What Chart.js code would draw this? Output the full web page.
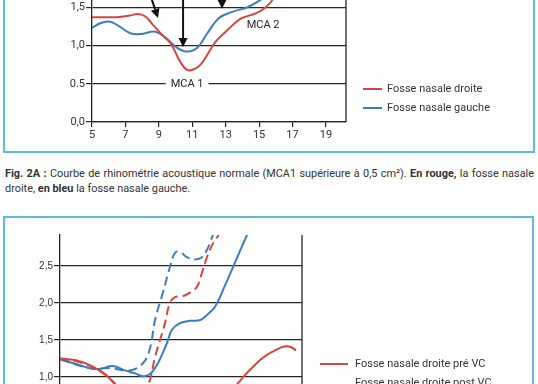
<!DOCTYPE html>
<html>
<head>
<meta charset="utf-8">
<script src="https://cdn.jsdelivr.net/npm/chart.js@4.4.0/dist/chart.umd.min.js"></script>
<style>
  body { margin: 0; width: 538px; height: 384px; overflow: hidden; position: relative; background: #fff; font-family: Roboto, sans-serif; color: #333; }
  .box { position: absolute; box-sizing: border-box; border: 2px solid #5cbcdb; }
  #box1 { left: 3px; top: -60px; width: 532px; height: 213px; }
  #box2 { left: 3px; top: 216px; width: 531px; height: 300px; }
  canvas { position: absolute; left: 0; }
  #chart1 { top: -40px; }
  #chart2 { top: 225px; }
  .leg { position: absolute; font-size: 11px; line-height: 14px; white-space: nowrap; }
  .leg i { position: absolute; top: 6px; height: 0; border-top: 2px solid; }
  .caption { position: absolute; left: 5px; top: 166px; width: 529px; font-size: 10.9px; line-height: 15px; color: #333; }
  .caption .l1 { text-align: justify; text-align-last: justify; white-space: nowrap; }
</style>
</head>
<body>
<div class="box" id="box1"></div>
<div class="box" id="box2"></div>
<canvas id="chart1" width="538" height="200"></canvas>
<canvas id="chart2" width="538" height="260"></canvas>

<div class="leg" style="left:363px;top:82px;"><i style="left:0;width:19px;border-color:#d8453e"></i><span style="margin-left:24px">Fosse nasale droite</span></div>
<div class="leg" style="left:363px;top:101px;"><i style="left:0;width:19px;border-color:#3b7dbf"></i><span style="margin-left:24px">Fosse nasale gauche</span></div>

<div class="caption">
  <div class="l1"><b>Fig. 2A :</b> Courbe de rhinométrie acoustique normale (MCA1 supérieure à 0,5 cm²). <b>En rouge,</b> la fosse nasale</div>
  <div>droite, <b>en bleu</b> la fosse nasale gauche.</div>
</div>

<div class="leg" style="left:320px;top:357px;"><i style="left:0;width:28px;border-color:#d8453e"></i><span style="margin-left:35px">Fosse nasale droite pré VC</span></div>
<div class="leg" style="left:320px;top:376px;"><i style="left:0;top:10px;width:28px;border-color:#d8453e;border-top-style:dashed"></i><span style="margin-left:35px">Fosse nasale droite post VC</span></div>
<div class="leg" style="left:320px;top:396px;"><i style="left:0;width:28px;border-color:#3b7dbf"></i><span style="margin-left:35px">Fosse nasale gauche pré VC</span></div>
<div class="leg" style="left:320px;top:416px;"><i style="left:0;width:28px;border-color:#3b7dbf;border-top-style:dashed"></i><span style="margin-left:35px">Fosse nasale gauche post VC</span></div>

<script>
const RED = '#d8453e';
const BLUE = '#3b7dbf';
const INK = '#262626';

// Fig. 2A : courbe normale
const droiteX = [5.0, 6.4, 7.2, 7.8, 8.2, 8.65, 9.1, 9.7, 10.3, 10.7, 11.1, 11.5, 11.9, 12.4, 13.0, 13.9, 14.8, 15.4, 16.0, 16.6];
const droiteY = [1.37, 1.37, 1.39, 1.41, 1.38, 1.27, 1.16, 1.03, 0.78, 0.68, 0.69, 0.75, 0.88, 1.05, 1.18, 1.35, 1.42, 1.50, 1.65, 1.85];
const gaucheX = [5.0, 5.5, 6.1, 6.7, 7.3, 7.9, 8.8, 9.4, 10.1, 10.7, 11.3, 11.9, 12.6, 13.4, 14.3, 14.9, 15.5, 16.2];
const gaucheY = [1.23, 1.29, 1.31, 1.24, 1.16, 1.15, 1.18, 1.10, 0.97, 0.92, 0.97, 1.16, 1.36, 1.44, 1.50, 1.57, 1.66, 1.80];

const xTicks1 = [5, 7, 9, 11, 13, 15, 17, 19];
const yTicks1 = [0, 0.5, 1.0, 1.5, 2.0];
const yLabels1 = ['0,0', '0.5', '1,0', '1,5', '2,0'];

// annotations MCA
const mcaText = ['MCA 1', 'MCA 2'];
const mcaX = [10.69, 15.24];
const mcaY = [0.5, 1.27];
const arrowFromX = [8.35, 10.45, 12.78];
const arrowFromY = [1.75, 1.75, 1.75];
const arrowToX = [8.95, 10.45, 12.78];
const arrowToY = [1.36, 0.98, 1.48];

// Fig. 2B : avant / après VC
const droitePreX = [5.0, 5.93, 6.86, 7.48, 7.98, 8.41, 9.03, 9.96, 11.82, 13.68, 15.23, 15.97, 16.47, 16.97, 17.4, 17.83, 18.33, 18.83, 19.26, 19.63];
const droitePreY = [1.25, 1.23, 1.16, 1.08, 1.00, 0.90, 0.72, 0.55, 0.45, 0.50, 0.72, 0.90, 1.03, 1.14, 1.23, 1.30, 1.36, 1.41, 1.41, 1.36];
const droitePostX = [5.0, 6.24, 7.17, 7.79, 8.22, 9.03, 9.96, 10.39, 10.58, 10.89, 11.2, 11.51, 11.82, 12.13, 12.56, 13.06, 13.49, 13.8, 14.11, 14.49, 14.8, 14.92];
const droitePostY = [1.25, 1.20, 1.12, 1.04, 0.95, 0.78, 0.70, 0.90, 0.96, 1.27, 1.50, 1.73, 2.01, 2.08, 2.09, 2.14, 2.22, 2.41, 2.62, 2.81, 2.91, 2.98];
const gauchePreX = [5.0, 5.93, 6.86, 7.48, 8.29, 9.03, 9.65, 10.15, 10.58, 11.08, 11.63, 11.94, 12.44, 13.06, 13.68, 14.11, 14.61, 15.23, 15.85, 16.59, 16.8];
const gauchePreY = [1.24, 1.18, 1.12, 1.11, 1.15, 1.09, 1.05, 1.01, 1.04, 1.19, 1.46, 1.64, 1.73, 1.76, 1.77, 1.84, 1.95, 2.24, 2.55, 2.92, 3.0];
const gauchePostX = [5.0, 6.86, 8.1, 9.34, 10.15, 10.58, 10.89, 11.39, 11.82, 12.13, 12.44, 12.87, 13.37, 13.8, 14.11, 14.36, 14.49];
const gauchePostY = [1.24, 1.12, 1.12, 1.09, 1.19, 1.39, 1.77, 2.15, 2.49, 2.68, 2.69, 2.62, 2.59, 2.62, 2.72, 2.85, 2.93];

const xTicks2 = [5, 7, 9, 11, 13, 15, 17, 19];
const yTicks2 = [0, 0.5, 1.0, 1.5, 2.0, 2.5];
const yLabels2 = ['0,0', '0,5', '1,0', '1,5', '2,0', '2,5'];

function pts(xs, ys) {
  return xs.map((x, i) => ({ x: x, y: ys[i] }));
}

function line(label, xs, ys, color, dashed) {
  return {
    label: label,
    data: pts(xs, ys),
    borderColor: color,
    borderWidth: 2,
    borderDash: dashed ? [9, 5] : [],
    pointRadius: 0,
    tension: 0.4,
    fill: false
  };
}

// ligne verticale de droite du cadre
const frameRight = {
  id: 'frameRight',
  afterDraw(chart) {
    const a = chart.chartArea;
    const ctx = chart.ctx;
    ctx.save();
    ctx.strokeStyle = INK;
    ctx.lineWidth = 1.3;
    ctx.beginPath();
    ctx.moveTo(a.right, a.top);
    ctx.lineTo(a.right, a.bottom);
    ctx.stroke();
    ctx.restore();
  }
};

// textes MCA et flèches
const mcaNotes = {
  id: 'mcaNotes',
  afterDatasetsDraw(chart) {
    const ctx = chart.ctx;
    const sx = chart.scales.x, sy = chart.scales.y;
    ctx.save();
    ctx.font = '11px Roboto, sans-serif';
    ctx.textAlign = 'center';
    ctx.textBaseline = 'middle';
    mcaText.forEach((t, i) => {
      const px = sx.getPixelForValue(mcaX[i]);
      const py = sy.getPixelForValue(mcaY[i]);
      const w = ctx.measureText(t).width;
      ctx.fillStyle = '#fff';
      ctx.fillRect(px - w / 2 - 5, py - 4, w + 10, 8);
      ctx.fillStyle = INK;
      ctx.fillText(t, px, py);
    });
    ctx.strokeStyle = '#111';
    ctx.fillStyle = '#111';
    ctx.lineWidth = 2;
    arrowFromX.forEach((x0, i) => {
      const p0x = sx.getPixelForValue(x0), p0y = sy.getPixelForValue(arrowFromY[i]);
      const p1x = sx.getPixelForValue(arrowToX[i]), p1y = sy.getPixelForValue(arrowToY[i]);
      const ang = Math.atan2(p1y - p0y, p1x - p0x);
      const len = 9, half = 4.5;
      const bx = p1x - len * Math.cos(ang), by = p1y - len * Math.sin(ang);
      ctx.beginPath();
      ctx.moveTo(p0x, p0y);
      ctx.lineTo(bx, by);
      ctx.stroke();
      ctx.beginPath();
      ctx.moveTo(p1x, p1y);
      ctx.lineTo(bx + half * Math.sin(ang), by - half * Math.cos(ang));
      ctx.lineTo(bx - half * Math.sin(ang), by + half * Math.cos(ang));
      ctx.closePath();
      ctx.fill();
    });
    ctx.restore();
  }
};

function axes(xTicks, xMin, xMax, xHeight, yTicks, yLabels, yMax, yWidth, font) {
  return {
    x: {
      type: 'linear',
      min: xMin,
      max: xMax,
      afterFit(s) { s.height = xHeight; },
      afterBuildTicks(s) { s.ticks = xTicks.map(v => ({ value: v })); },
      grid: { drawOnChartArea: false, drawTicks: true, tickLength: 5, color: INK, lineWidth: 1.2 },
      border: { display: true, color: INK, width: 1.3 },
      ticks: { color: '#333', font: font, padding: 2, maxRotation: 0, autoSkip: false }
    },
    y: {
      type: 'linear',
      min: 0,
      max: yMax,
      afterFit(s) { s.width = yWidth; },
      afterBuildTicks(s) { s.ticks = yTicks.map(v => ({ value: v })); },
      grid: { color: INK, lineWidth: 1.2, tickLength: 6 },
      border: { display: true, color: INK, width: 1.3 },
      ticks: {
        color: '#333',
        font: font,
        padding: 1,
        callback: v => yLabels[yTicks.indexOf(v)]
      }
    }
  };
}

new Chart(document.getElementById('chart1').getContext('2d'), {
  type: 'line',
  data: {
    datasets: [
      line('Fosse nasale droite', droiteX, droiteY, RED, false),
      line('Fosse nasale gauche', gaucheX, gaucheY, BLUE, false)
    ]
  },
  options: {
    responsive: false,
    animation: false,
    layout: { padding: { left: 0, right: 192, top: 9, bottom: 0 } },
    plugins: { legend: { display: false }, tooltip: { enabled: false } },
    scales: axes(xTicks1, 5, 20.2, 38, yTicks1, yLabels1, 2.0, 92, { family: 'Roboto', size: 11 })
  },
  plugins: [frameRight, mcaNotes]
});

new Chart(document.getElementById('chart2').getContext('2d'), {
  type: 'line',
  data: {
    datasets: [
      line('Fosse nasale droite pré VC', droitePreX, droitePreY, RED, false),
      line('Fosse nasale droite post VC', droitePostX, droitePostY, RED, true),
      line('Fosse nasale gauche pré VC', gauchePreX, gauchePreY, BLUE, false),
      line('Fosse nasale gauche post VC', gauchePostX, gauchePostY, BLUE, true)
    ]
  },
  options: {
    responsive: false,
    animation: false,
    layout: { padding: { left: 0, right: 236, top: 10, bottom: 0 } },
    plugins: { legend: { display: false }, tooltip: { enabled: false } },
    scales: axes(xTicks2, 5, 20, 34, yTicks2, yLabels2, 2.92, 60, { family: 'Liberation Sans', size: 10 })
  },
  plugins: [frameRight]
});
</script>
</body>
</html>
